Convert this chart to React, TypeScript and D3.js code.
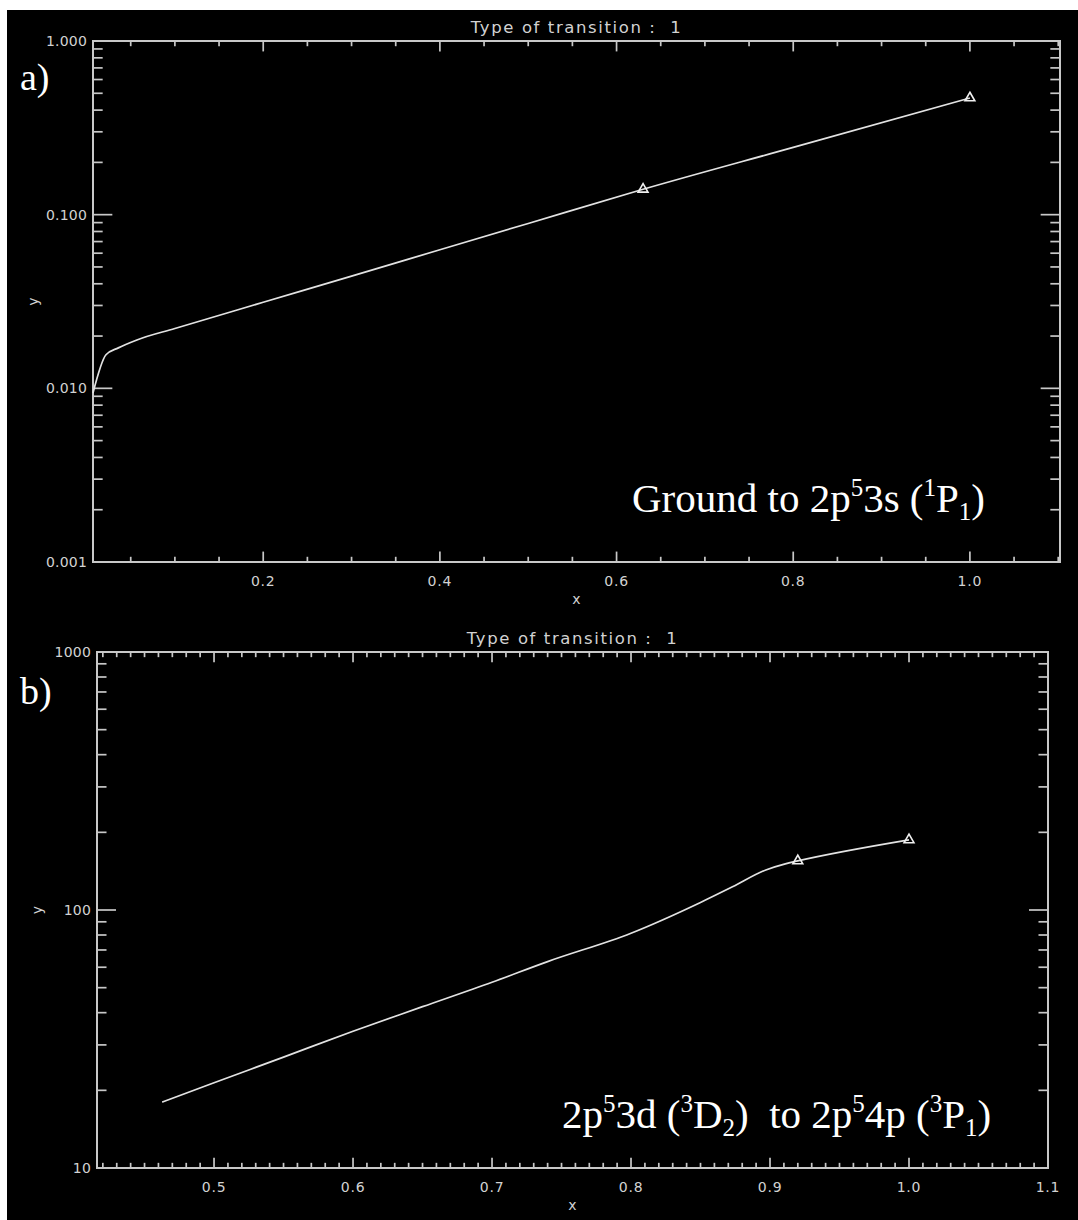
import React, { useRef, useEffect } from 'react';
import * as d3 from 'd3';

// panel a) Ground to 2p53s (1P1)
const xA = [0.0073, 0.022, 0.036, 0.057, 0.1, 0.2, 0.3, 0.4, 0.5, 0.63, 0.8, 1.0];
const yA = [0.0094, 0.0156, 0.0171, 0.019, 0.0221, 0.0313, 0.0443, 0.0628, 0.089, 0.14, 0.244, 0.47];
const markA = [0.63, 1.0];
const xTicksA = [0.2, 0.4, 0.6, 0.8, 1.0];
const yTicksA = [0.001, 0.01, 0.1, 1];

// panel b) 2p53d (3D2) to 2p54p (3P1)
const xB = [0.4627, 0.5, 0.55, 0.6, 0.65, 0.7, 0.74, 0.8, 0.85, 0.873, 0.897, 0.911, 0.92, 1.0];
const yB = [18.0, 21.4, 26.9, 33.9, 42.2, 52.5, 63.1, 81.3, 107, 123, 143, 151, 155, 187];
const markB = [0.92, 1.0];
const xTicksB = [0.5, 0.6, 0.7, 0.8, 0.9, 1.0, 1.1];
const yTicksB = [10, 100, 1000];

const title = 'Type of transition :\u00a0\u00a01';

const axisCol = '#c8c8c8';
const textCol = '#d2d2d2';
const tickFont = "'DejaVu Sans', sans-serif";

const panels = [
  {
    id: 'a', xs: xA, ys: yA, marks: markA, xTicks: xTicksA, yTicks: yTicksA,
    xDomain: [0.0073, 1.102], yDomain: [0.001, 1],
    left: 93, right: 1060, top: 41, bottom: 562, minorStep: 0.05,
    xFmt: d3.format('.1f'), yFmt: d3.format('.3f'),
    letter: 'a)', letterY: 90,
    note: [['Ground to 2p', 0], ['5', 1], ['3s (', 0], ['1', 1], ['P', 0], ['1', -1], [')', 0]],
    noteX: 632, noteY: 512,
  },
  {
    id: 'b', xs: xB, ys: yB, marks: markB, xTicks: xTicksB, yTicks: yTicksB,
    xDomain: [0.4158, 1.1], yDomain: [10, 1000],
    left: 97, right: 1048, top: 652, bottom: 1168, minorStep: 0.01,
    xFmt: d3.format('.1f'), yFmt: d3.format('d'),
    letter: 'b)', letterY: 704,
    note: [['2p', 0], ['5', 1], ['3d (', 0], ['3', 1], ['D', 0], ['2', -1], [')\u00a0 to 2p', 0], ['5', 1], ['4p (', 0], ['3', 1], ['P', 0], ['1', -1], [')', 0]],
    noteX: 562, noteY: 1128,
  },
];

function drawPanel(svg, p) {
  const x = d3.scaleLinear().domain(p.xDomain).range([p.left, p.right]);
  const y = d3.scaleLog().domain(p.yDomain).range([p.bottom, p.top]);
  const g = svg.append('g');
  const xLen = 0.02 * (p.bottom - p.top);
  const yLen = 0.02 * (p.right - p.left);

  // minor ticks
  const [x0, x1] = p.xDomain;
  const minorX = d3.range(Math.ceil(x0 / p.minorStep - 1e-6), Math.floor(x1 / p.minorStep + 1e-6) + 1)
    .map(i => +(i * p.minorStep).toFixed(3))
    .filter(v => !p.xTicks.some(t => Math.abs(t - v) < 1e-6));
  const minorY = [];
  d3.range(Math.log10(p.yDomain[0]), Math.log10(p.yDomain[1])).forEach(e => {
    for (let k = 2; k <= 9; k++) minorY.push(k * Math.pow(10, e));
  });

  const ticks = g.append('g').attr('stroke', axisCol).attr('stroke-width', 1.7);
  [[p.xTicks, xLen], [minorX, xLen / 2]].forEach(([vals, len]) => {
    vals.forEach(v => {
      ticks.append('line').attr('x1', x(v)).attr('x2', x(v)).attr('y1', p.bottom).attr('y2', p.bottom - len);
      ticks.append('line').attr('x1', x(v)).attr('x2', x(v)).attr('y1', p.top).attr('y2', p.top + len);
    });
  });
  [[p.yTicks, yLen], [minorY, yLen / 2]].forEach(([vals, len]) => {
    vals.forEach(v => {
      ticks.append('line').attr('y1', y(v)).attr('y2', y(v)).attr('x1', p.left).attr('x2', p.left + len);
      ticks.append('line').attr('y1', y(v)).attr('y2', y(v)).attr('x1', p.right).attr('x2', p.right - len);
    });
  });

  g.append('rect')
    .attr('x', p.left).attr('y', p.top)
    .attr('width', p.right - p.left).attr('height', p.bottom - p.top)
    .attr('fill', 'none').attr('stroke', axisCol).attr('stroke-width', 2);

  const txt = g.append('g').attr('fill', textCol).style('font-family', tickFont).style('font-size', '14px');
  txt.selectAll('.xt').data(p.xTicks).join('text')
    .attr('x', d => x(d)).attr('y', p.bottom + 24).attr('text-anchor', 'middle')
    .attr('letter-spacing', 0.8).text(d => p.xFmt(d));
  txt.selectAll('.yt').data(p.yTicks).join('text')
    .attr('x', p.left - 6).attr('y', d => y(d) + 5).attr('text-anchor', 'end')
    .attr('letter-spacing', 0.2).text(d => p.yFmt(d));
  txt.append('text').attr('x', (p.left + p.right) / 2).attr('y', p.bottom + 42)
    .attr('text-anchor', 'middle').text('x');
  txt.append('text').attr('transform', `translate(${p.left - 55},${(p.top + p.bottom) / 2}) rotate(-90)`)
    .attr('text-anchor', 'middle').text('y');
  txt.append('text').attr('x', (p.left + p.right) / 2).attr('y', p.top - 8)
    .attr('text-anchor', 'middle').style('font-size', '16.5px').attr('letter-spacing', 1.6).text(title);

  const line = d3.line().x(d => x(d[0])).y(d => y(d[1])).curve(d3.curveMonotoneX);
  const pts = p.xs.map((v, i) => [v, p.ys[i]]);
  g.append('path').datum(pts).attr('d', line)
    .attr('fill', 'none').attr('stroke', '#e2e2e2').attr('stroke-width', 1.7);

  const tri = d3.symbol().type(d3.symbolTriangle).size(42);
  g.selectAll('.mk').data(pts.filter(d => p.marks.includes(d[0]))).join('path')
    .attr('transform', d => `translate(${x(d[0])},${y(d[1])})`)
    .attr('d', tri).attr('fill', 'none').attr('stroke', '#f0f0f0').attr('stroke-width', 1.6);

  const serif = "'Liberation Serif', 'Times New Roman', serif";
  g.append('text').attr('x', 20).attr('y', p.letterY).attr('fill', '#fff')
    .style('font-family', serif).style('font-size', '38px').text(p.letter);

  const note = g.append('text').attr('x', p.noteX).attr('y', p.noteY).attr('fill', '#fff')
    .style('font-family', serif).style('font-size', '41px');
  let shift = 0;
  p.note.forEach(([s, pos]) => {
    const target = pos === 1 ? -16 : pos === -1 ? 8 : 0;
    note.append('tspan').attr('dy', target - shift)
      .style('font-size', pos === 0 ? '41px' : '25px').text(s);
    shift = target;
  });
}

export default function App() {
  const ref = useRef(null);
  useEffect(() => {
    const svg = d3.select(ref.current);
    svg.selectAll('*').remove();
    svg.append('rect').attr('x', 0).attr('y', 0).attr('width', 1078).attr('height', 1220).attr('fill', '#fff');
    svg.append('rect').attr('x', 7).attr('y', 10).attr('width', 1071).attr('height', 1210).attr('fill', '#000');
    panels.forEach(p => drawPanel(svg, p));
  }, []);
  return (
    <div style={{ position: 'absolute', left: 0, top: 0 }}>
      <svg ref={ref} width={1078} height={1220} style={{ display: 'block' }}></svg>
    </div>
  );
}
